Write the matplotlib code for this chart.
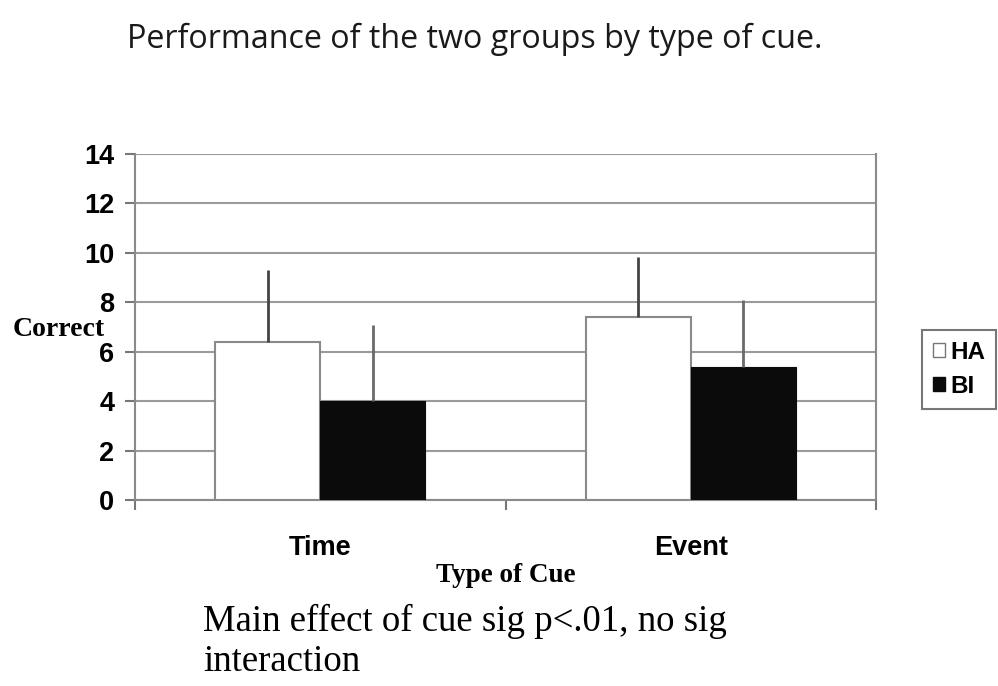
import matplotlib
matplotlib.use("Agg")
import matplotlib.pyplot as plt
import numpy as np
from matplotlib.patches import Patch

categories = ["Time", "Event"]
groups = ["HA", "BI"]
ha_values = [6.4, 7.4]
bi_values = [4.0, 5.4]
ha_err = [2.9, 2.45]
bi_err = [3.1, 2.7]
yticks = [0, 2, 4, 6, 8, 10, 12, 14]

title = "Performance of the two groups by type of cue."
note_lines = ["Main effect of cue sig p<.01, no sig", "interaction"]

fig = plt.figure(figsize=(9.98, 6.86), dpi=100)
ax = fig.add_axes([135/998, 1-500/686, (876-135)/998, (500-154)/686])

x = np.arange(len(categories))
w = 0.284
ax.bar(x - w/2, ha_values, w, color="white", edgecolor="#8a8a8a", linewidth=1.5, zorder=3)
ax.bar(x + w/2, bi_values, w, color="#0b0b0b", edgecolor="#0b0b0b", linewidth=0.8, zorder=3)
ax.errorbar(x - w/2, ha_values, yerr=[np.zeros(2), ha_err], fmt="none",
            ecolor="#444444", elinewidth=2, capsize=0, zorder=4)
ax.errorbar(x + w/2, bi_values, yerr=[np.zeros(2), bi_err], fmt="none",
            ecolor="#6a6a6a", elinewidth=2, capsize=0, zorder=4)

ax.set_xlim(-0.5, len(categories) - 0.5)
ax.set_ylim(0, 14)
ax.set_yticks(yticks)
ax.set_yticklabels([str(t) for t in yticks], fontsize=19.5, fontweight="bold",
                   family="Liberation Sans")
ax.yaxis.grid(True, color="#9a9a9a", linewidth=1.5, zorder=0)
ax.set_axisbelow(True)

ax.set_xticks(x)
ax.set_xticklabels(categories, fontsize=19.5, fontweight="bold", family="Liberation Sans")
ax.tick_params(axis="x", length=0, pad=25)
ax.set_xticks([-0.5, 0.5, 1.5], minor=True)
ax.tick_params(axis="x", which="minor", length=7, width=1.5, color="#777777", direction="out")
ax.tick_params(axis="y", length=7, width=1.5, color="#777777", direction="out", pad=8)

for s in ax.spines.values():
    s.set_color("#8a8a8a")
    s.set_linewidth(1.5)
ax.spines["top"].set_visible(False)

ax.set_xlabel("Type of Cue", fontsize=19.5, fontweight="bold", family="Liberation Serif", labelpad=2)
fig.text(59/998, 1-329/686, "Correct", fontsize=20, fontweight="bold", family="Liberation Serif",
         ha="center", va="center")

fig.text(475/998, 1-39/686, title, fontsize=23.2, family="Open Sans", ha="center", va="center",
         color="#1a1a1a")
fig.text(203/998, 1-621/686, note_lines[0], fontsize=26.5, family="Liberation Serif",
         ha="left", va="center")
fig.text(203/998, 1-662/686, note_lines[1], fontsize=26.5, family="Liberation Serif",
         ha="left", va="center")

handles = [Patch(facecolor="white", edgecolor="#777777", label=groups[0]),
           Patch(facecolor="#0b0b0b", edgecolor="#0b0b0b", label=groups[1])]
leg = fig.legend(handles=handles, loc="upper left", bbox_to_anchor=(922/998, 1-330/686),
                 frameon=True, fancybox=False, handlelength=0.5, handleheight=0.5,
                 handletextpad=0.2, borderpad=0.45, labelspacing=0.45, borderaxespad=0,
                 prop={"family": "Liberation Sans", "weight": "bold", "size": 17.5})
leg.get_frame().set_edgecolor("#555555")
leg.get_frame().set_linewidth(1.5)

fig.savefig("out.png", dpi=100)
